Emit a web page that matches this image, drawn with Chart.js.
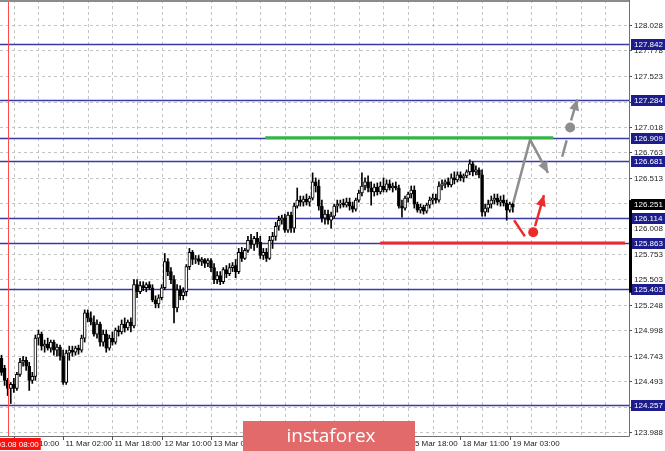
<!DOCTYPE html>
<html>
<head>
<meta charset="utf-8">
<script src="https://cdn.jsdelivr.net/npm/chart.js@4.4.1/dist/chart.umd.min.js"></script>
<style>
  html, body { margin: 0; padding: 0; background: #fff; overflow: hidden; }
  #grafico { display: block; }
</style>
</head>
<body>
<canvas id="grafico" width="665" height="451"></canvas>
<script>
// =========================
// DATA (H1 candles)
// =========================
const candleOpen = [
  124.72, 124.62, 124.50, 124.42, 124.46, 124.42, 124.56, 124.68, 124.70, 124.64,
  124.50, 124.54, 124.92, 124.96, 124.84, 124.86, 124.82, 124.88, 124.80, 124.83,
  124.74, 124.48, 124.77, 124.80, 124.78, 124.82, 124.80, 124.92, 125.17, 125.12,
  125.08, 124.96, 125.06, 124.88, 124.96, 124.82, 124.92, 124.88, 125.00, 124.98,
  125.06, 125.02, 125.08, 125.04, 125.45, 125.38, 125.44, 125.42, 125.45, 125.42,
  125.30, 125.26, 125.32, 125.42, 125.68, 125.58, 125.50, 125.22, 125.40, 125.34,
  125.38, 125.63, 125.77, 125.70, 125.71, 125.68, 125.70, 125.66, 125.69, 125.62,
  125.50, 125.54, 125.48, 125.60, 125.56, 125.62, 125.64, 125.58, 125.77, 125.71,
  125.79, 125.89, 125.85, 125.91, 125.87, 125.74, 125.77, 125.71, 125.89, 125.93,
  126.03, 126.09, 126.11, 125.99, 126.14, 126.01, 126.23, 126.29, 126.27, 126.30,
  126.27, 126.31, 126.47, 126.43, 126.23, 126.11, 126.15, 126.09, 126.13, 126.23,
  126.25, 126.26, 126.24, 126.27, 126.23, 126.20, 126.29, 126.36, 126.43, 126.47,
  126.41, 126.37, 126.42, 126.37, 126.43, 126.39, 126.45, 126.41, 126.43, 126.41,
  126.23, 126.21, 126.31, 126.35, 126.39, 126.25, 126.19, 126.22, 126.18, 126.24,
  126.29, 126.31, 126.29, 126.43, 126.45, 126.47, 126.44, 126.51, 126.49, 126.54,
  126.51, 126.53, 126.57, 126.65, 126.57, 126.59, 126.54, 126.17, 126.21, 126.25,
  126.29, 126.31, 126.27, 126.29, 126.26, 126.19, 126.25
];
const candleHigh = [
  124.75, 124.65, 124.52, 124.48, 124.52, 124.58, 124.72, 124.74, 124.73, 124.68,
  124.58, 124.95, 125.00, 124.98, 124.90, 124.92, 124.90, 124.90, 124.86, 124.85,
  124.80, 124.80, 124.84, 124.84, 124.84, 124.85, 124.95, 125.20, 125.20, 125.18,
  125.14, 125.10, 125.08, 125.00, 125.00, 124.95, 124.98, 125.02, 125.04, 125.10,
  125.12, 125.10, 125.12, 125.50, 125.50, 125.48, 125.48, 125.47, 125.48, 125.45,
  125.34, 125.35, 125.45, 125.76, 125.71, 125.62, 125.54, 125.45, 125.44, 125.42,
  125.65, 125.81, 125.79, 125.74, 125.74, 125.72, 125.71, 125.71, 125.71, 125.66,
  125.58, 125.58, 125.62, 125.64, 125.66, 125.67, 125.70, 125.81, 125.82, 125.81,
  125.93, 125.95, 125.93, 125.97, 125.93, 125.81, 125.81, 125.93, 125.97, 126.07,
  126.13, 126.14, 126.15, 126.17, 126.17, 126.26, 126.41, 126.33, 126.33, 126.35,
  126.33, 126.56, 126.51, 126.49, 126.29, 126.19, 126.19, 126.17, 126.25, 126.29,
  126.29, 126.30, 126.31, 126.31, 126.27, 126.31, 126.39, 126.56, 126.51, 126.53,
  126.47, 126.45, 126.46, 126.47, 126.51, 126.49, 126.49, 126.46, 126.47, 126.44,
  126.29, 126.33, 126.37, 126.43, 126.43, 126.27, 126.25, 126.24, 126.26, 126.32,
  126.35, 126.35, 126.47, 126.49, 126.49, 126.51, 126.55, 126.57, 126.57, 126.57,
  126.55, 126.59, 126.69, 126.67, 126.63, 126.61, 126.59, 126.25, 126.29, 126.33,
  126.35, 126.35, 126.33, 126.34, 126.29, 126.27, 126.27
];
const candleLow = [
  124.55, 124.45, 124.35, 124.27, 124.38, 124.40, 124.54, 124.64, 124.60, 124.40,
  124.47, 124.50, 124.85, 124.80, 124.78, 124.80, 124.78, 124.75, 124.74, 124.70,
  124.46, 124.46, 124.70, 124.74, 124.75, 124.76, 124.78, 124.88, 125.08, 125.05,
  124.94, 124.92, 124.84, 124.84, 124.78, 124.80, 124.85, 124.86, 124.94, 124.96,
  124.98, 125.00, 124.98, 125.02, 125.32, 125.36, 125.39, 125.38, 125.40, 125.28,
  125.22, 125.22, 125.30, 125.40, 125.54, 125.46, 125.07, 125.18, 125.30, 125.30,
  125.34, 125.60, 125.65, 125.66, 125.65, 125.64, 125.62, 125.63, 125.58, 125.46,
  125.46, 125.45, 125.46, 125.52, 125.54, 125.58, 125.52, 125.56, 125.68, 125.70,
  125.77, 125.81, 125.79, 125.82, 125.71, 125.70, 125.68, 125.70, 125.81, 125.89,
  125.99, 126.05, 125.97, 125.97, 125.97, 125.97, 126.21, 126.23, 126.23, 126.24,
  126.23, 126.29, 126.37, 126.19, 126.07, 126.05, 126.05, 126.01, 126.11, 126.17,
  126.21, 126.22, 126.22, 126.19, 126.17, 126.18, 126.27, 126.33, 126.39, 126.37,
  126.24, 126.33, 126.34, 126.35, 126.37, 126.37, 126.39, 126.37, 126.39, 126.21,
  126.12, 126.19, 126.27, 126.31, 126.21, 126.17, 126.16, 126.15, 126.16, 126.21,
  126.25, 126.26, 126.27, 126.39, 126.41, 126.42, 126.42, 126.45, 126.47, 126.48,
  126.47, 126.51, 126.54, 126.53, 126.54, 126.51, 126.13, 126.13, 126.17, 126.21,
  126.25, 126.24, 126.23, 126.23, 126.09, 126.17, 126.17
];
const candleClose = [
  124.58, 124.50, 124.42, 124.46, 124.42, 124.56, 124.68, 124.70, 124.64, 124.50,
  124.54, 124.92, 124.96, 124.84, 124.86, 124.82, 124.88, 124.80, 124.83, 124.74,
  124.48, 124.77, 124.80, 124.78, 124.82, 124.80, 124.92, 125.17, 125.12, 125.08,
  124.96, 125.06, 124.88, 124.96, 124.82, 124.92, 124.88, 125.00, 124.98, 125.06,
  125.02, 125.08, 125.04, 125.45, 125.38, 125.44, 125.42, 125.45, 125.42, 125.30,
  125.26, 125.32, 125.42, 125.68, 125.58, 125.50, 125.22, 125.40, 125.34, 125.38,
  125.63, 125.77, 125.70, 125.71, 125.68, 125.70, 125.66, 125.69, 125.62, 125.50,
  125.54, 125.48, 125.60, 125.56, 125.62, 125.64, 125.58, 125.77, 125.71, 125.79,
  125.89, 125.85, 125.91, 125.87, 125.74, 125.77, 125.71, 125.89, 125.93, 126.03,
  126.09, 126.11, 125.99, 126.14, 126.01, 126.23, 126.29, 126.27, 126.30, 126.27,
  126.31, 126.47, 126.43, 126.23, 126.11, 126.15, 126.09, 126.13, 126.23, 126.25,
  126.26, 126.24, 126.27, 126.23, 126.20, 126.29, 126.36, 126.43, 126.47, 126.41,
  126.37, 126.42, 126.37, 126.43, 126.39, 126.45, 126.41, 126.43, 126.41, 126.23,
  126.21, 126.31, 126.35, 126.39, 126.25, 126.19, 126.22, 126.18, 126.24, 126.29,
  126.31, 126.29, 126.43, 126.45, 126.47, 126.44, 126.51, 126.49, 126.54, 126.51,
  126.53, 126.57, 126.65, 126.57, 126.59, 126.54, 126.17, 126.21, 126.25, 126.29,
  126.31, 126.27, 126.29, 126.26, 126.19, 126.25, 126.22
];

// price axis
const priceTicks = [128.028, 127.778, 127.523, 127.268, 127.018, 126.763, 126.513, 126.258,
  126.008, 125.753, 125.503, 125.248, 124.998, 124.743, 124.493, 124.238, 123.988];
const levelPrices = [127.842, 127.284, 126.909, 126.681, 126.114, 125.863, 125.403, 124.257];
const lastPrice = 126.251;
const priceMin = 123.948;
const priceMax = 128.276;

// time axis (bar index)
const timeLabels = ["8 Mar 10:00", "11 Mar 02:00", "11 Mar 18:00", "12 Mar 10:00", "13 Mar 02:00",
  "13 Mar 18:00", "14 Mar 10:00", "15 Mar 02:00", "15 Mar 18:00", "18 Mar 11:00", "19 Mar 03:00"];
const timeLabelIdx = [4, 20, 36, 52, 68, 84, 100, 116, 132, 149, 165];
const gridIdx = [4, 12, 20, 28, 36, 44, 52, 60, 68, 76, 84, 92, 100, 108, 116, 124,
  132, 140, 148, 156, 164, 172, 180, 188, 196];
const crossIdx = 2;
const crossLabel = "2019.03.08 08:00";
const idxMin = -0.49;
const idxMax = 203.7;

// forecast drawings
const greenLevel = { from: 85.6, to: 179.1, price: 126.909 };
const redLevel   = { from: 122.9, to: 202.4, price: 125.863 };
const grayPath   = [{ x: 166.1, y: 126.26 }, { x: 171.6, y: 126.89 }, { x: 177.4, y: 126.56 }];
const grayDash   = [{ x: 182.0, y: 126.72 }, { x: 184.6, y: 127.01 }];
const grayDot    = [{ x: 184.6, y: 127.01 }];
const grayArrow  = [{ x: 184.9, y: 127.08 }, { x: 186.9, y: 127.29 }];
const redPath    = [{ x: 166.4, y: 126.09 }, { x: 169.9, y: 125.93 }];
const redDot     = [{ x: 172.6, y: 125.97 }];
const redArrow   = [{ x: 173.2, y: 126.03 }, { x: 176.1, y: 126.34 }];

const FONT = '8px "Liberation Sans", Arial, sans-serif';

const bodies = candleOpen.map((o, i) => ({ x: i, y: [o, candleClose[i]] }));
const wicks  = candleLow.map((l, i) => ({ x: i, y: [l, candleHigh[i]] }));

// =========================
// PLUGIN: grid, levels, axes, labels
// =========================
const mtDecor = {
  id: "mtDecor",
  beforeDatasetsDraw(chart) {
    const { ctx, chartArea: a, scales: { x, y } } = chart;
    ctx.save();
    ctx.lineWidth = 1;
    ctx.strokeStyle = "#c4c4c4";
    ctx.setLineDash([3, 3]);
    gridIdx.forEach(i => {
      const px = Math.round(x.getPixelForValue(i)) + 0.5;
      ctx.beginPath(); ctx.moveTo(px, a.top); ctx.lineTo(px, a.bottom); ctx.stroke();
    });
    priceTicks.forEach(v => {
      const py = Math.round(y.getPixelForValue(v)) + 0.5;
      ctx.beginPath(); ctx.moveTo(a.left, py); ctx.lineTo(a.right, py); ctx.stroke();
    });
    ctx.setLineDash([]);
    ctx.strokeStyle = "#3a3aa6";
    ctx.lineWidth = 1.3;
    levelPrices.forEach(v => {
      const py = Math.round(y.getPixelForValue(v)) + 0.5;
      ctx.beginPath(); ctx.moveTo(a.left, py); ctx.lineTo(a.right, py); ctx.stroke();
    });
    ctx.restore();
  },
  afterDatasetsDraw(chart) {
    const { ctx, chartArea: a, scales: { x } } = chart;
    ctx.save();
    // arrow heads
    chart.data.datasets.forEach((ds, di) => {
      if (!ds.arrowHead) return;
      const pts = chart.getDatasetMeta(di).data;
      const p1 = pts[pts.length - 2], p2 = pts[pts.length - 1];
      const ang = Math.atan2(p2.y - p1.y, p2.x - p1.x);
      const len = 11, half = 5;
      ctx.fillStyle = ds.borderColor;
      ctx.beginPath();
      ctx.moveTo(p2.x, p2.y);
      ctx.lineTo(p2.x - len * Math.cos(ang) + half * Math.sin(ang), p2.y - len * Math.sin(ang) - half * Math.cos(ang));
      ctx.lineTo(p2.x - len * Math.cos(ang) - half * Math.sin(ang), p2.y - len * Math.sin(ang) + half * Math.cos(ang));
      ctx.closePath();
      ctx.fill();
    });
    // crosshair
    const cx = Math.round(x.getPixelForValue(crossIdx)) + 0.5;
    ctx.strokeStyle = "#ff4a4a";
    ctx.lineWidth = 1;
    ctx.beginPath(); ctx.moveTo(cx, a.top); ctx.lineTo(cx, a.bottom); ctx.stroke();
    ctx.restore();
  },
  afterDraw(chart) {
    const { ctx, chartArea: a, scales: { x, y } } = chart;
    const W = chart.width;
    ctx.save();
    ctx.font = FONT;
    ctx.textBaseline = "middle";

    // frame
    ctx.strokeStyle = "#8c8c8c";
    ctx.lineWidth = 2;
    ctx.beginPath(); ctx.moveTo(a.left, a.top + 1); ctx.lineTo(a.right, a.top + 1); ctx.stroke();
    ctx.lineWidth = 1;
    ctx.strokeStyle = "#707070";
    ctx.beginPath();
    ctx.moveTo(a.right + 0.5, a.top); ctx.lineTo(a.right + 0.5, a.bottom + 0.5);
    ctx.lineTo(a.left, a.bottom + 0.5);
    ctx.stroke();

    // price ticks
    ctx.fillStyle = "#222";
    ctx.textAlign = "left";
    priceTicks.forEach(v => {
      const py = Math.round(y.getPixelForValue(v)) + 0.5;
      ctx.strokeStyle = "#555";
      ctx.beginPath(); ctx.moveTo(a.right, py); ctx.lineTo(a.right + 3, py); ctx.stroke();
      ctx.fillText(v.toFixed(3), a.right + 5, py);
    });

    // level boxes
    levelPrices.forEach(v => {
      const py = Math.round(y.getPixelForValue(v));
      ctx.fillStyle = "#1c1c8c";
      ctx.fillRect(a.right + 2, py - 5, W - a.right - 2, 11);
      ctx.fillStyle = "#fff";
      ctx.fillText(v.toFixed(3), a.right + 5, py + 0.5);
    });
    // last price box
    const lp = Math.round(y.getPixelForValue(lastPrice));
    ctx.fillStyle = "#000";
    ctx.fillRect(a.right + 2, lp - 5, W - a.right - 2, 11);
    ctx.fillStyle = "#fff";
    ctx.fillText(lastPrice.toFixed(3), a.right + 5, lp + 0.5);
    // thick edge marker
    ctx.fillStyle = "#000";
    const t1 = y.getPixelForValue(126.29), t2 = y.getPixelForValue(125.37);
    ctx.fillRect(a.right, t1, 3, t2 - t1);

    // time labels
    ctx.fillStyle = "#222";
    ctx.strokeStyle = "#555";
    timeLabels.forEach((t, k) => {
      const px = Math.round(x.getPixelForValue(timeLabelIdx[k])) + 0.5;
      ctx.beginPath(); ctx.moveTo(px, a.bottom); ctx.lineTo(px, a.bottom + 4); ctx.stroke();
      ctx.fillText(t, px + 2, a.bottom + 8);
    });

    // crosshair time label
    const cx = x.getPixelForValue(crossIdx);
    const cw = ctx.measureText(crossLabel).width;
    ctx.fillStyle = "#ff1010";
    ctx.fillRect(cx - cw / 2 - 2, a.bottom + 2, cw + 4, 12);
    ctx.fillStyle = "#fff";
    ctx.textAlign = "center";
    ctx.fillText(crossLabel, cx, a.bottom + 8.5);

    // watermark
    ctx.fillStyle = "#e36a6a";
    ctx.fillRect(243, 421, 172, 30);
    ctx.fillStyle = "#fff";
    ctx.font = '19px "Open Sans", sans-serif';
    ctx.fillText("instaforex", 331, 437);
    ctx.restore();
  }
};

// =========================
// CHART
// =========================
const lineDs = (data, color, width, extra) => Object.assign({
  type: "line", data, borderColor: color, backgroundColor: color,
  borderWidth: width, pointRadius: 0, order: 0
}, extra || {});

new Chart(document.getElementById("grafico"), {
  type: "bar",
  data: {
    datasets: [
      lineDs([{ x: greenLevel.from, y: greenLevel.price }, { x: greenLevel.to, y: greenLevel.price }], "#33b54a", 3),
      lineDs([{ x: redLevel.from, y: redLevel.price }, { x: redLevel.to, y: redLevel.price }], "#ee2b2b", 3),
      lineDs(grayPath, "#8e8e8e", 2.5, { arrowHead: true }),
      lineDs(grayDash, "#8e8e8e", 2.5, { borderDash: [17, 14] }),
      lineDs(grayDot, "#8e8e8e", 0, { pointRadius: 5 }),
      lineDs(grayArrow, "#8e8e8e", 2.5, { arrowHead: true }),
      lineDs(redPath, "#ee2b2b", 2.5),
      lineDs(redDot, "#ee2b2b", 0, { pointRadius: 5 }),
      lineDs(redArrow, "#ee2b2b", 2.5, { arrowHead: true }),
      {
        data: bodies,
        grouped: false,
        order: 1,
        barThickness: 3,
        borderWidth: 1,
        borderSkipped: false,
        borderColor: "#000",
        backgroundColor: ctx => {
          const r = ctx.raw;
          return r && r.y[1] >= r.y[0] ? "#ffffff" : "#000000";
        }
      },
      {
        data: wicks,
        grouped: false,
        order: 2,
        barThickness: 1,
        borderWidth: 0,
        backgroundColor: "#000"
      }
    ]
  },
  options: {
    responsive: false,
    animation: false,
    devicePixelRatio: 1,
    layout: { autoPadding: false, padding: { left: 0, top: 0, right: 36, bottom: 15 } },
    plugins: { legend: { display: false }, tooltip: { enabled: false } },
    scales: {
      x: { type: "linear", display: false, min: idxMin, max: idxMax, offset: false },
      y: { type: "linear", display: false, min: priceMin, max: priceMax, beginAtZero: false }
    }
  },
  plugins: [mtDecor]
});
</script>
</body>
</html>
